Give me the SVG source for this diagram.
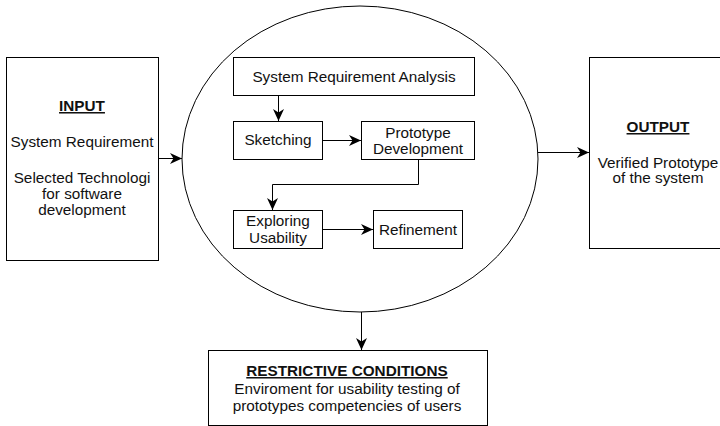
<svg xmlns="http://www.w3.org/2000/svg" width="720" height="426" viewBox="0 0 720 426">
<style>
.box{fill:#fff;stroke:#000;stroke-width:1}
.t{font-family:"Liberation Sans",Arial,Helvetica,sans-serif;font-size:15.3px;fill:#111;text-anchor:middle}
.b{font-weight:bold;text-decoration:underline}
.c{fill:none;stroke:#000;stroke-width:1}
</style>
<defs>
<marker id="arr" markerWidth="14" markerHeight="12" refX="12" refY="6" orient="auto" markerUnits="userSpaceOnUse">
<path d="M0,0.5 L12,6 L0,11.5 L3.5,6 Z" fill="#000"/>
</marker>
</defs>
<rect width="720" height="426" fill="#fff"/>
<g id="input">
<rect class="box" x="6.5" y="57.5" width="152" height="203"/>
<text class="t b" x="82" y="111">INPUT</text>
<text class="t" x="82" y="147">System Requirement</text>
<text class="t" x="82" y="182.5">Selected Technologi</text>
<text class="t" x="82" y="198.5">for software</text>
<text class="t" x="82" y="214.5">development</text>
</g>
<g id="process">
<ellipse cx="360" cy="159" rx="178" ry="153" fill="#fff" stroke="#000" stroke-width="1"/>
</g>
<g id="output">
<rect class="box" x="589.5" y="57.5" width="140" height="191"/>
<text class="t b" x="658" y="132">OUTPUT</text>
<text class="t" x="658" y="167.5">Verified Prototype</text>
<text class="t" x="658" y="183">of the system</text>
</g>
<g id="sra">
<rect class="box" x="233.5" y="57.5" width="241" height="38"/>
<text class="t" x="354" y="82">System Requirement Analysis</text>
</g>
<g id="sketching">
<rect class="box" x="233.5" y="121.5" width="89" height="38"/>
<text class="t" x="278" y="145">Sketching</text>
</g>
<g id="prototype">
<rect class="box" x="361.5" y="121.5" width="113" height="38"/>
<text class="t" x="418" y="137.5">Prototype</text>
<text class="t" x="418" y="154">Development</text>
</g>
<g id="exploring">
<rect class="box" x="233.5" y="210.5" width="89" height="38"/>
<text class="t" x="278" y="226">Exploring</text>
<text class="t" x="278" y="242.5">Usability</text>
</g>
<g id="refinement">
<rect class="box" x="373.5" y="210.5" width="89" height="38"/>
<text class="t" x="418" y="234.5">Refinement</text>
</g>
<g id="restrictive">
<rect class="box" x="208.5" y="350.5" width="279" height="75"/>
<text class="t b" x="347" y="376">RESTRICTIVE CONDITIONS</text>
<text class="t" x="347" y="393.5">Enviroment for usability testing of</text>
<text class="t" x="347" y="410.5">prototypes competencies of users</text>
</g>
<g id="connectors">
<path class="c" d="M158.5,158.5 H182" marker-end="url(#arr)"/>
<path class="c" d="M538,152.5 H589" marker-end="url(#arr)"/>
<path class="c" d="M361.5,312 V350" marker-end="url(#arr)"/>
<path class="c" d="M278.5,96 V121" marker-end="url(#arr)"/>
<path class="c" d="M323,140.5 H361" marker-end="url(#arr)"/>
<path class="c" d="M418.5,160 V184.5 H272.5 V210" marker-end="url(#arr)"/>
<path class="c" d="M323,229.5 H373" marker-end="url(#arr)"/>
</g>
</svg>
